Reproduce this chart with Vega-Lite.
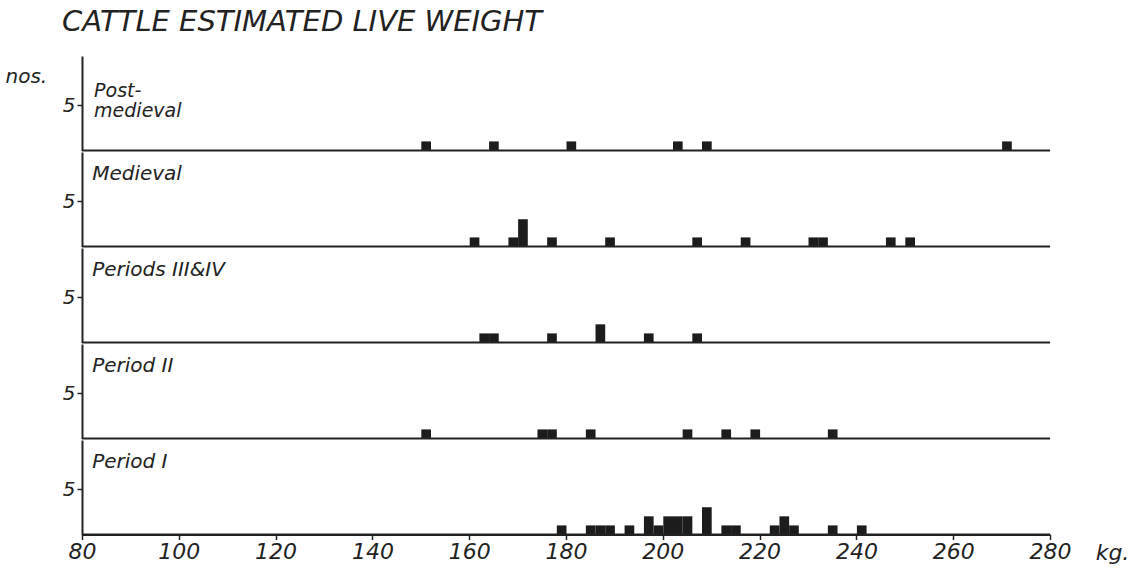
{
  "$schema": "https://vega.github.io/schema/vega-lite/v6.json",
  "padding": {"left": 5, "top": 8, "right": 5, "bottom": 5},
  "background": "white",
  "title": {"text": "CATTLE ESTIMATED LIVE WEIGHT", "anchor": "start", "frame": "bounds", "dx": 57, "fontSize": 29, "fontStyle": "italic", "fontWeight": "normal", "font": "DejaVu Sans", "color": "#222", "offset": 19},
  "datasets": {"cattle": [
    {"period": "Post-medieval", "label": ["Post-", "medieval"]},
    {"period": "Medieval", "label": "Medieval"},
    {"period": "Periods III&IV", "label": "Periods III&IV"},
    {"period": "Period II", "label": "Period II"},
    {"period": "Period I", "label": "Period I"},
    {"period": "Post-medieval", "kg": 150, "n": 1},
    {"period": "Post-medieval", "kg": 164, "n": 1},
    {"period": "Post-medieval", "kg": 180, "n": 1},
    {"period": "Post-medieval", "kg": 202, "n": 1},
    {"period": "Post-medieval", "kg": 208, "n": 1},
    {"period": "Post-medieval", "kg": 270, "n": 1},
    {"period": "Medieval", "kg": 160, "n": 1},
    {"period": "Medieval", "kg": 168, "n": 1},
    {"period": "Medieval", "kg": 170, "n": 3},
    {"period": "Medieval", "kg": 176, "n": 1},
    {"period": "Medieval", "kg": 188, "n": 1},
    {"period": "Medieval", "kg": 206, "n": 1},
    {"period": "Medieval", "kg": 216, "n": 1},
    {"period": "Medieval", "kg": 230, "n": 1},
    {"period": "Medieval", "kg": 232, "n": 1},
    {"period": "Medieval", "kg": 246, "n": 1},
    {"period": "Medieval", "kg": 250, "n": 1},
    {"period": "Periods III&IV", "kg": 162, "n": 1},
    {"period": "Periods III&IV", "kg": 164, "n": 1},
    {"period": "Periods III&IV", "kg": 176, "n": 1},
    {"period": "Periods III&IV", "kg": 186, "n": 2},
    {"period": "Periods III&IV", "kg": 196, "n": 1},
    {"period": "Periods III&IV", "kg": 206, "n": 1},
    {"period": "Period II", "kg": 150, "n": 1},
    {"period": "Period II", "kg": 174, "n": 1},
    {"period": "Period II", "kg": 176, "n": 1},
    {"period": "Period II", "kg": 184, "n": 1},
    {"period": "Period II", "kg": 204, "n": 1},
    {"period": "Period II", "kg": 212, "n": 1},
    {"period": "Period II", "kg": 218, "n": 1},
    {"period": "Period II", "kg": 234, "n": 1},
    {"period": "Period I", "kg": 178, "n": 1},
    {"period": "Period I", "kg": 184, "n": 1},
    {"period": "Period I", "kg": 186, "n": 1},
    {"period": "Period I", "kg": 188, "n": 1},
    {"period": "Period I", "kg": 192, "n": 1},
    {"period": "Period I", "kg": 196, "n": 2},
    {"period": "Period I", "kg": 198, "n": 1},
    {"period": "Period I", "kg": 200, "n": 2},
    {"period": "Period I", "kg": 202, "n": 2},
    {"period": "Period I", "kg": 204, "n": 2},
    {"period": "Period I", "kg": 208, "n": 3},
    {"period": "Period I", "kg": 212, "n": 1},
    {"period": "Period I", "kg": 214, "n": 1},
    {"period": "Period I", "kg": 222, "n": 1},
    {"period": "Period I", "kg": 224, "n": 2},
    {"period": "Period I", "kg": 226, "n": 1},
    {"period": "Period I", "kg": 234, "n": 1},
    {"period": "Period I", "kg": 240, "n": 1}
  ]},
  "data": {"name": "cattle"},
  "spacing": 0,
  "vconcat": [
    {
      "width": 968, "height": 94.5,
      "transform": [{"filter": "datum.period === 'Post-medieval'"}],
      "layer": [
        {
          "transform": [{"filter": "isValid(datum.n)"}],
          "mark": {"type": "bar", "color": "#1c1c1c", "binSpacing": 0},
          "encoding": {
            "x": {"field": "kg", "type": "quantitative", "bin": {"binned": true, "step": 2}, "scale": {"domain": [80, 280], "nice": false, "zero": false}, "axis": null},
            "y": {"field": "n", "type": "quantitative", "scale": {"domain": [0, 10.4], "nice": false},
              "axis": {"values": [5], "grid": false, "tickSize": 5, "tickColor": "#222", "tickWidth": 1.5, "domainColor": "#222", "domainWidth": 2, "labelFont": "DejaVu Sans", "labelFontStyle": "italic", "labelFontSize": 20, "labelColor": "#222", "labelPadding": 2,
                "title": "nos.", "titleAngle": 0, "titleX": -77, "titleY": 20, "titleAlign": "left", "titleBaseline": "middle", "titleFont": "DejaVu Sans", "titleFontStyle": "italic", "titleFontWeight": "normal", "titleFontSize": 20, "titleColor": "#222"}}
          }
        },
        {"transform": [{"filter": "isValid(datum.label)"}], "mark": {"type": "rule", "color": "#222", "strokeWidth": 2}, "encoding": {"y": {"datum": 0}}},
        {
          "transform": [{"filter": "isValid(datum.label)"}],
          "mark": {"type": "text", "align": "left", "baseline": "middle", "font": "DejaVu Sans", "fontStyle": "italic", "fontSize": 19, "lineHeight": 20, "color": "#222"},
          "encoding": {"x": {"datum": 82.5}, "y": {"datum": 6.6}, "text": {"field": "label"}}
        }
      ]
    },
    {
      "width": 968, "height": 94.5,
      "transform": [{"filter": "datum.period === 'Medieval'"}],
      "layer": [
        {
          "transform": [{"filter": "isValid(datum.n)"}],
          "mark": {"type": "bar", "color": "#1c1c1c", "binSpacing": 0},
          "encoding": {
            "x": {"field": "kg", "type": "quantitative", "bin": {"binned": true, "step": 2}, "scale": {"domain": [80, 280], "nice": false, "zero": false}, "axis": null},
            "y": {"field": "n", "type": "quantitative", "scale": {"domain": [0, 10.4], "nice": false},
              "axis": {"values": [5], "grid": false, "tickSize": 5, "tickColor": "#222", "tickWidth": 1.5, "domainColor": "#222", "domainWidth": 2, "labelFont": "DejaVu Sans", "labelFontStyle": "italic", "labelFontSize": 20, "labelColor": "#222", "labelPadding": 2, "title": null}}
          }
        },
        {"transform": [{"filter": "isValid(datum.label)"}], "mark": {"type": "rule", "color": "#222", "strokeWidth": 2}, "encoding": {"y": {"datum": 0}}},
        {
          "transform": [{"filter": "isValid(datum.label)"}],
          "mark": {"type": "text", "align": "left", "baseline": "middle", "font": "DejaVu Sans", "fontStyle": "italic", "fontSize": 20, "color": "#222"},
          "encoding": {"x": {"datum": 82.1}, "y": {"datum": 8.0}, "text": {"field": "label"}}
        }
      ]
    },
    {
      "width": 968, "height": 94.5,
      "transform": [{"filter": "datum.period === 'Periods III&IV'"}],
      "layer": [
        {
          "transform": [{"filter": "isValid(datum.n)"}],
          "mark": {"type": "bar", "color": "#1c1c1c", "binSpacing": 0},
          "encoding": {
            "x": {"field": "kg", "type": "quantitative", "bin": {"binned": true, "step": 2}, "scale": {"domain": [80, 280], "nice": false, "zero": false}, "axis": null},
            "y": {"field": "n", "type": "quantitative", "scale": {"domain": [0, 10.4], "nice": false},
              "axis": {"values": [5], "grid": false, "tickSize": 5, "tickColor": "#222", "tickWidth": 1.5, "domainColor": "#222", "domainWidth": 2, "labelFont": "DejaVu Sans", "labelFontStyle": "italic", "labelFontSize": 20, "labelColor": "#222", "labelPadding": 2, "title": null}}
          }
        },
        {"transform": [{"filter": "isValid(datum.label)"}], "mark": {"type": "rule", "color": "#222", "strokeWidth": 2}, "encoding": {"y": {"datum": 0}}},
        {
          "transform": [{"filter": "isValid(datum.label)"}],
          "mark": {"type": "text", "align": "left", "baseline": "middle", "font": "DejaVu Sans", "fontStyle": "italic", "fontSize": 20, "color": "#222"},
          "encoding": {"x": {"datum": 82.1}, "y": {"datum": 8.0}, "text": {"field": "label"}}
        }
      ]
    },
    {
      "width": 968, "height": 94.5,
      "transform": [{"filter": "datum.period === 'Period II'"}],
      "layer": [
        {
          "transform": [{"filter": "isValid(datum.n)"}],
          "mark": {"type": "bar", "color": "#1c1c1c", "binSpacing": 0},
          "encoding": {
            "x": {"field": "kg", "type": "quantitative", "bin": {"binned": true, "step": 2}, "scale": {"domain": [80, 280], "nice": false, "zero": false}, "axis": null},
            "y": {"field": "n", "type": "quantitative", "scale": {"domain": [0, 10.4], "nice": false},
              "axis": {"values": [5], "grid": false, "tickSize": 5, "tickColor": "#222", "tickWidth": 1.5, "domainColor": "#222", "domainWidth": 2, "labelFont": "DejaVu Sans", "labelFontStyle": "italic", "labelFontSize": 20, "labelColor": "#222", "labelPadding": 2, "title": null}}
          }
        },
        {"transform": [{"filter": "isValid(datum.label)"}], "mark": {"type": "rule", "color": "#222", "strokeWidth": 2}, "encoding": {"y": {"datum": 0}}},
        {
          "transform": [{"filter": "isValid(datum.label)"}],
          "mark": {"type": "text", "align": "left", "baseline": "middle", "font": "DejaVu Sans", "fontStyle": "italic", "fontSize": 20, "color": "#222"},
          "encoding": {"x": {"datum": 82.1}, "y": {"datum": 8.0}, "text": {"field": "label"}}
        }
      ]
    },
    {
      "width": 968, "height": 94.5,
      "transform": [{"filter": "datum.period === 'Period I'"}],
      "layer": [
        {
          "transform": [{"filter": "isValid(datum.n)"}],
          "mark": {"type": "bar", "color": "#1c1c1c", "binSpacing": 0},
          "encoding": {
            "x": {"field": "kg", "type": "quantitative", "bin": {"binned": true, "step": 2}, "scale": {"domain": [80, 280], "nice": false, "zero": false},
              "axis": {"values": [80, 100, 120, 140, 160, 180, 200, 220, 240, 260, 280], "grid": false, "tickSize": 5, "tickColor": "#222", "tickWidth": 1.5, "domainColor": "#222", "domainWidth": 2, "labelFont": "DejaVu Sans", "labelFontStyle": "italic", "labelFontSize": 22, "labelColor": "#222", "labelPadding": 2, "labelFlush": false, "title": "kg.", "titleFont": "DejaVu Sans", "titleFontStyle": "italic", "titleFontWeight": "normal", "titleFontSize": 22, "titleColor": "#222", "titleX": 1030, "titleY": 18, "titleAlign": "center", "titleBaseline": "middle"}},
            "y": {"field": "n", "type": "quantitative", "scale": {"domain": [0, 10.4], "nice": false},
              "axis": {"values": [5], "grid": false, "tickSize": 5, "tickColor": "#222", "tickWidth": 1.5, "domainColor": "#222", "domainWidth": 2, "labelFont": "DejaVu Sans", "labelFontStyle": "italic", "labelFontSize": 20, "labelColor": "#222", "labelPadding": 2, "title": null}}
          }
        },
        {"transform": [{"filter": "isValid(datum.label)"}], "mark": {"type": "rule", "color": "#222", "strokeWidth": 2}, "encoding": {"y": {"datum": 0}}},
        {
          "transform": [{"filter": "isValid(datum.label)"}],
          "mark": {"type": "text", "align": "left", "baseline": "middle", "font": "DejaVu Sans", "fontStyle": "italic", "fontSize": 20, "color": "#222"},
          "encoding": {"x": {"datum": 82.1}, "y": {"datum": 8.0}, "text": {"field": "label"}}
        }
      ]
    }
  ],
  "config": {"view": {"stroke": null}, "concat": {"spacing": 0}}
}
